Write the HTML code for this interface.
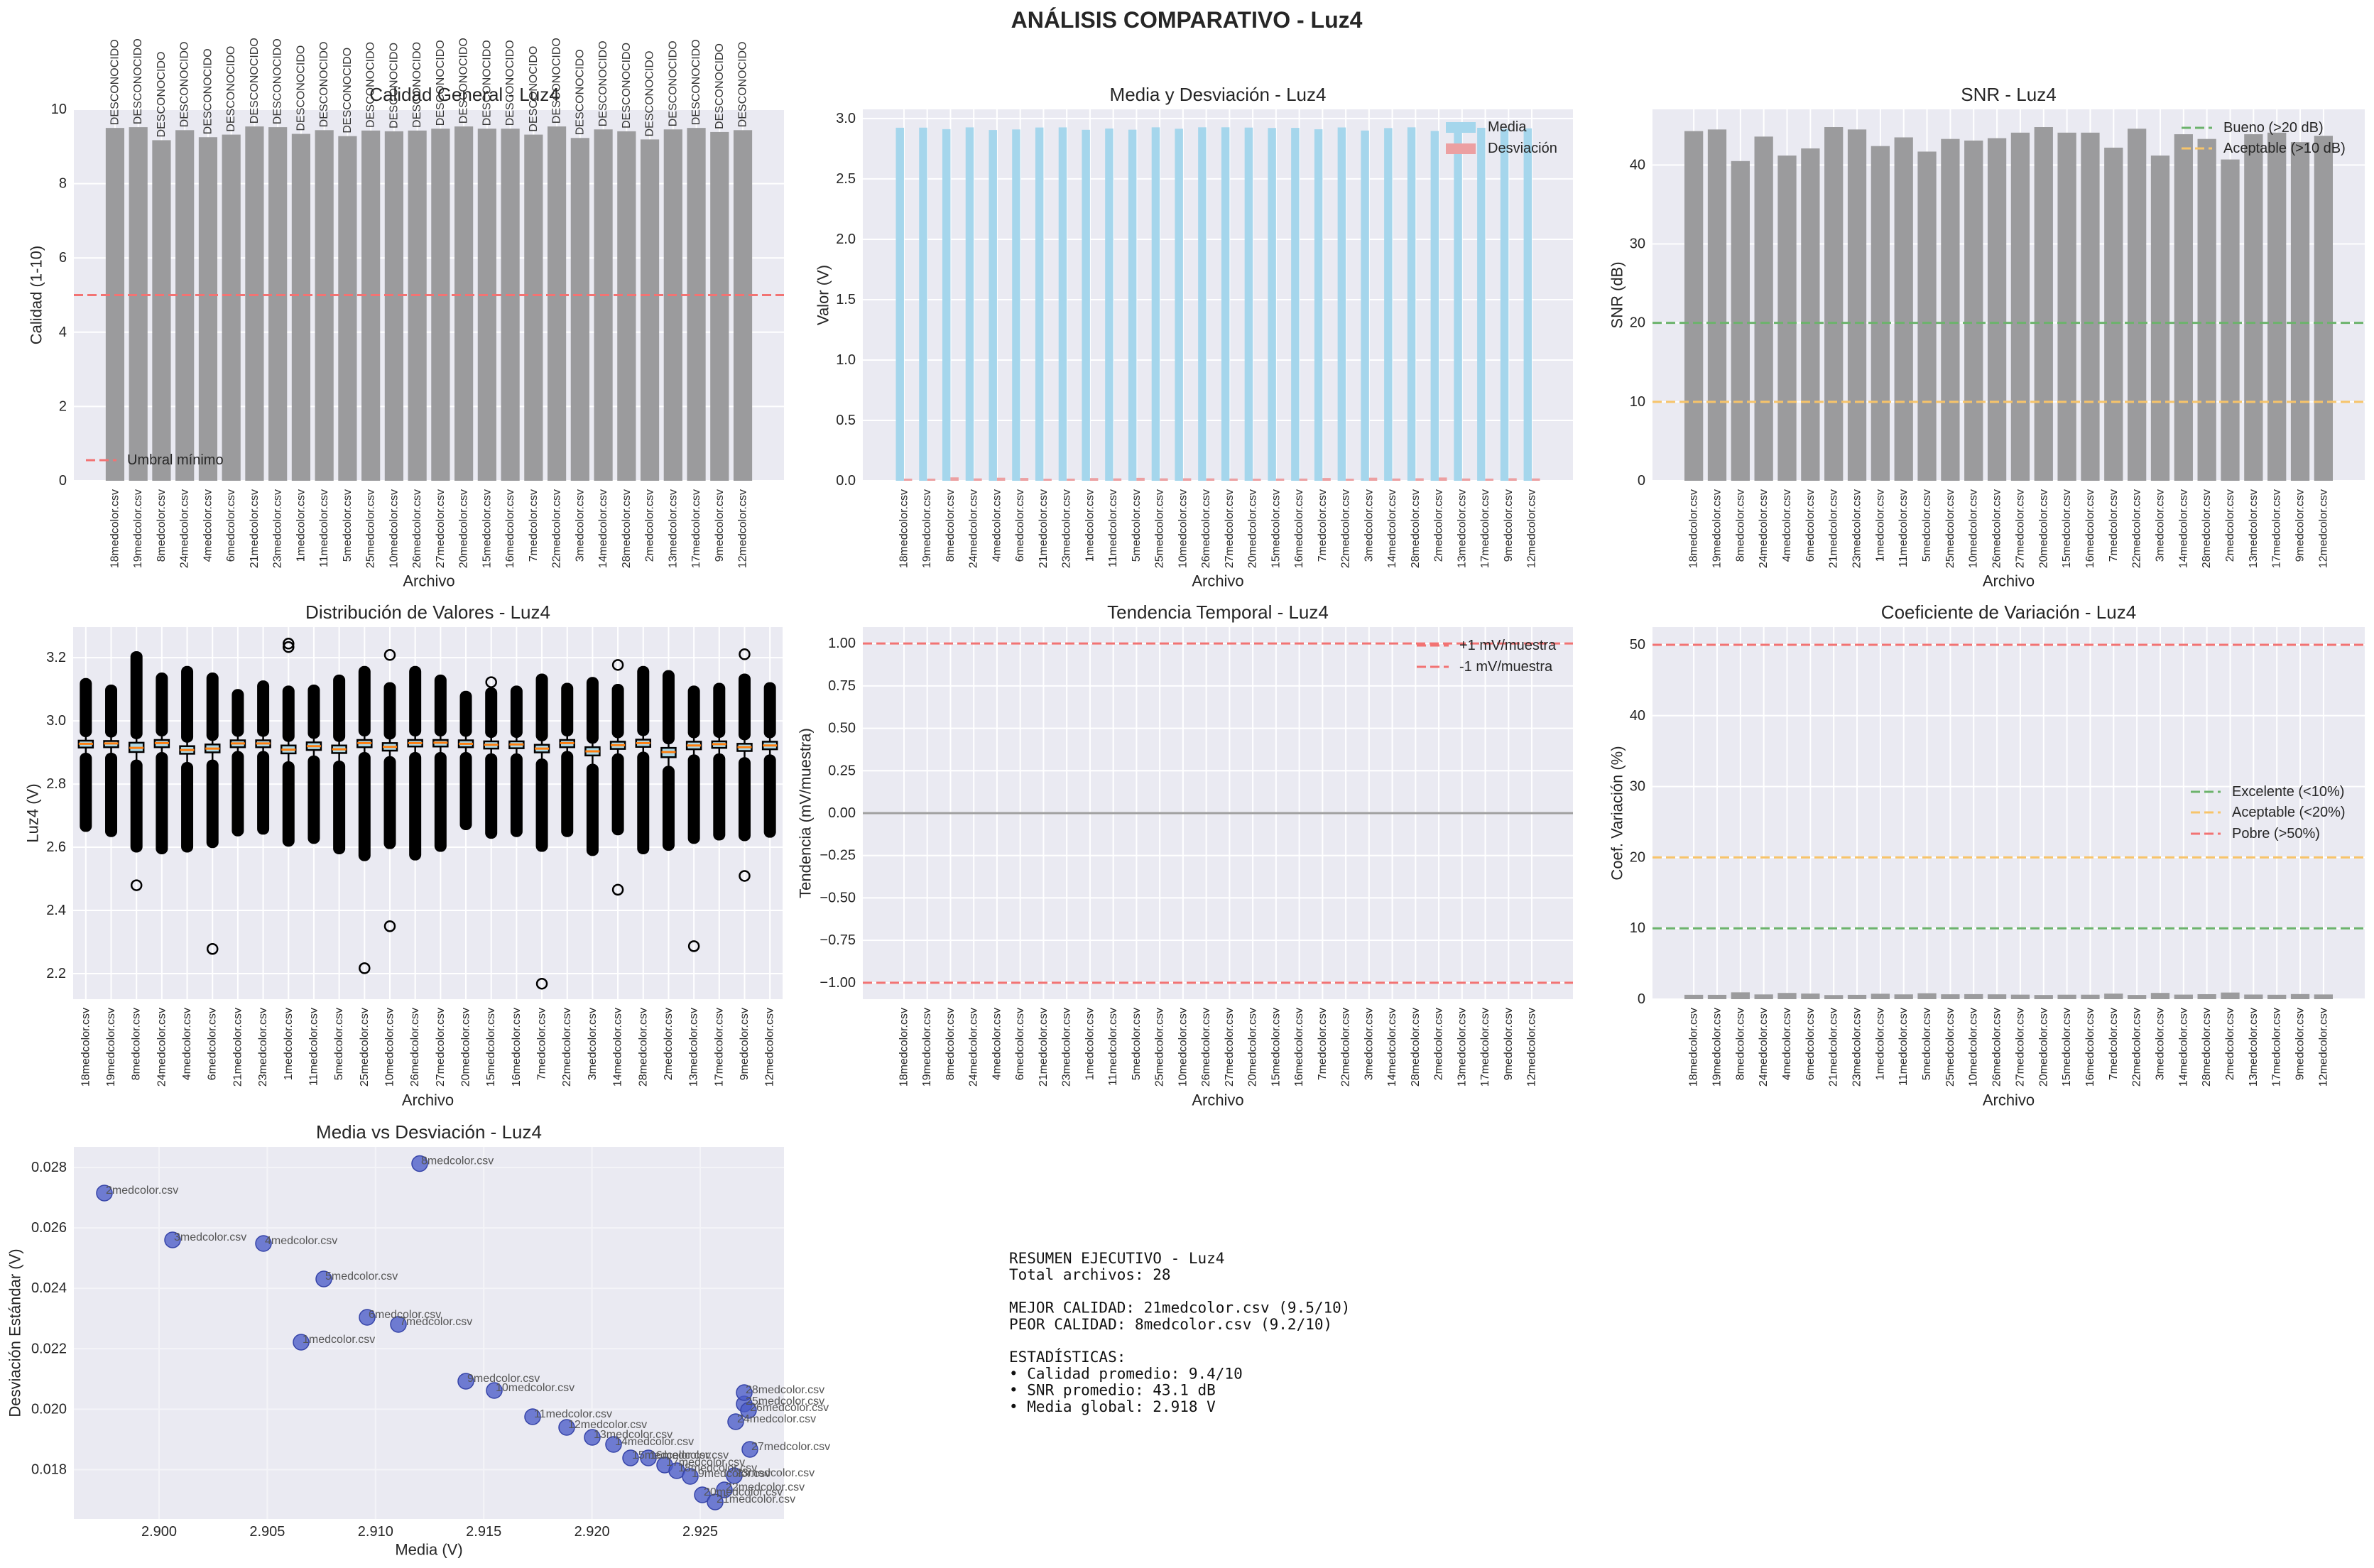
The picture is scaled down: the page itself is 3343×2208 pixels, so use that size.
<!DOCTYPE html>
<html><head><meta charset="utf-8"><style>
html,body{margin:0;padding:0;background:#fff;}
svg{display:block;font-family:"Liberation Sans",sans-serif;}
</style></head><body>
<svg id="s" xmlns="http://www.w3.org/2000/svg" width="3343" height="2208" viewBox="0 0 3343 2208"></svg>
<script>
const S=document.getElementById('s');
let out='';
const TC='#262626';
function t(x,y,s,o){o=o||{};out+=`<text x="${x}" y="${y}" font-size="${o.fs||20}" fill="${o.c||TC}" text-anchor="${o.a||'start'}" ${o.rot!==undefined?`transform="rotate(${o.rot} ${x} ${y})"`:''} dominant-baseline="${o.db||'auto'}" ${o.ff?`font-family='${o.ff}'`:''} ${o.fw?`font-weight="${o.fw}"`:''} ${o.op?`opacity="${o.op}"`:''}>${s}</text>`;}
function r(x,y,w,h,f,o){out+=`<rect x="${x}" y="${y}" width="${w}" height="${h}" fill="${f}" ${o||''}/>`;}
function l(x1,y1,x2,y2,c,w,d){out+=`<line x1="${x1}" y1="${y1}" x2="${x2}" y2="${y2}" stroke="${c}" stroke-width="${w}" ${d?`stroke-dasharray="${d}"`:''}/>`;}
const files=[18,19,8,24,4,6,21,23,1,11,5,25,10,26,27,20,15,16,7,22,3,14,28,2,13,17,9,12];
const sc={8:[591,1638.5],2:[147,1680],3:[243,1746],4:[371,1751],5:[456,1801],6:[517,1855],7:[561,1865],1:[424,1890],9:[656,1945],10:[696,1958],11:[750,1995],12:[798,2010],13:[834,2024],14:[864,2034],15:[888,2053],16:[913,2053],17:[936,2063],18:[953,2071],19:[972,2079],20:[989,2105],21:[1007,2115],22:[1020,2098],23:[1034,2078],24:[1036,2002],25:[1048,1977],26:[1054,1986],27:[1056,2041],28:[1048,1961]};
const mean=f=>2.9+(sc[f][0]-224)/30480, sd=f=>0.018+(2069.5-sc[f][1])/42550;
function ax(x0,x1,y0,y1,xmin,xmax,ymin,ymax){return{x0,x1,y0,y1,X:v=>x0+(v-xmin)/(xmax-xmin)*(x1-x0),Y:v=>y1-(v-ymin)/(ymax-ymin)*(y1-y0)};}
function frame(a,yt,fmt,title,ylab,xt,grid){
  r(a.x0,a.y0,a.x1-a.x0,a.y1-a.y0,'#eaeaf2');
  const gc=grid||'#fff';
  yt.forEach(v=>{const y=a.Y(v);l(a.x0,y,a.x1,y,gc,2);t(a.x0-10,y,fmt(v),{a:'end',db:'central',fs:20});});
  if(xt)xt.forEach(p=>l(a.X(p),a.y0,a.X(p),a.y1,gc,2));
  t((a.x0+a.x1)/2,a.y0-12,title,{a:'middle',fs:26});
}
function ylabel(x,a,s){t(x,(a.y0+a.y1)/2,s,{a:'middle',db:'central',rot:-90,fs:22});}
function xlabels(a,pos,base){files.forEach((f,i)=>t(a.X(pos[i]),a.y1+12,f+'medcolor.csv',{a:'end',db:'central',rot:-90,fs:16}));t((a.x0+a.x1)/2,base,'Archivo',{a:'middle',fs:22,db:'central'});}
const idx=files.map((f,i)=>i);
const XMIN=-1.77,XMAX=28.77;
const qual=[9.50,9.52,9.17,9.44,9.25,9.32,9.54,9.52,9.34,9.44,9.28,9.43,9.41,9.43,9.48,9.54,9.48,9.48,9.32,9.54,9.23,9.46,9.41,9.19,9.46,9.50,9.39,9.44];
const snr=[44.3,44.5,40.5,43.6,41.2,42.1,44.8,44.5,42.4,43.5,41.7,43.3,43.1,43.4,44.1,44.8,44.1,44.1,42.2,44.6,41.2,43.9,43.3,40.7,43.9,44.1,42.9,43.7];
const GRAY='#9b9b9d';
t(1671,39,'ANÁLISIS COMPARATIVO - Luz4',{a:'middle',fs:32,fw:'bold'});
// Plot 1
let a=ax(104,1104,154,677,XMIN,XMAX,0,10);
frame(a,[0,2,4,6,8,10],v=>v,'',null,idx);
idx.forEach(i=>{r(a.X(i-0.4),a.Y(qual[i]),a.X(0.8)-a.X(0),a.Y(0)-a.Y(qual[i]),GRAY);});
l(a.x0,a.Y(5),a.x1,a.Y(5),'#f27373',3,'13 6');
idx.forEach(i=>t(a.X(i),a.Y(qual[i])-4,'DESCONOCIDO',{a:'start',db:'central',rot:-90,fs:16,c:'#333'}));
t(654,133,'Calidad General - Luz4',{a:'middle',fs:26,db:'central'});
l(121,648,164,648,'#f27373',3,'13 6');t(179,648,'Umbral mínimo',{db:'central',fs:20});
ylabel(51,a,'Calidad (1-10)');xlabels(a,idx,818);
// Plot 2
a=ax(1215,2215,154,677,XMIN,XMAX,0,3.076);
frame(a,[0,0.5,1,1.5,2,2.5,3],v=>v.toFixed(1),'Media y Desviación - Luz4',null,idx);
const bw=a.X(0.35)-a.X(0);
idx.forEach(i=>{const f=files[i];r(a.X(i-0.35),a.Y(mean(f)),bw,a.Y(0)-a.Y(mean(f)),'#a5d6ec');r(a.X(i),a.Y(sd(f)),bw,a.Y(0)-a.Y(sd(f)),'#eca0a2');});
r(2036,172,42,15,'#a5d6ec');t(2095,179,'Media',{db:'central',fs:20});
r(2036,202,42,15,'#eca0a2');t(2095,209,'Desviación',{db:'central',fs:20});
ylabel(1159,a,'Valor (V)');xlabels(a,idx,818);
// Plot 3
a=ax(2327,3330,154,677,XMIN,XMAX,0,47.05);
frame(a,[0,10,20,30,40],v=>v,'SNR - Luz4',null,idx);
idx.forEach(i=>r(a.X(i-0.4),a.Y(snr[i]),a.X(0.8)-a.X(0),a.Y(0)-a.Y(snr[i]),GRAY));
l(a.x0,a.Y(20),a.x1,a.Y(20),'#6cb36c',3,'13 6');l(a.x0,a.Y(10),a.x1,a.Y(10),'#f7c46a',3,'13 6');
l(3072,180,3115,180,'#6cb36c',3,'13 6');t(3131,180,'Bueno (&gt;20 dB)',{db:'central',fs:20});
l(3072,209,3115,209,'#f7c46a',3,'13 6');t(3131,209,'Aceptable (&gt;10 dB)',{db:'central',fs:20});
ylabel(2277,a,'SNR (dB)');xlabels(a,idx,818);
// Plot 4 boxplot
a=ax(103,1102,883,1407,0.5,28.5,2.119,3.297);
frame(a,[2.2,2.4,2.6,2.8,3.0,3.2],v=>v.toFixed(1),'Distribución de Valores - Luz4',null,files.map((f,i)=>i+1));
const bx=[[278,460,480,469,495,725,[]],[297,461,479,468,495,740,[]],[200,466,493,481,515,785,[880]],[262,458,479,467,493,790,[]],[243,476,498,487,522,785,[]],[262,471,494,483,515,772,[1065]],[310,459,479,468,490,738,[]],[285,459,479,468,490,733,[]],[300,474,497,486,520,768,[178,188]],[297,465,487,476,503,760,[]],[268,474,496,485,518,790,[]],[243,458,479,467,493,810,[1121]],[290,467,489,478,505,775,[211,999]],[243,458,477,467,493,808,[]],[268,458,477,466,493,783,[]],[315,459,479,469,493,720,[]],[305,462,483,472,497,745,[290]],[300,462,482,471,497,740,[]],[265,472,494,483,512,783,[1166]],[292,458,479,467,490,740,[]],[275,479,503,491,527,795,[]],[295,463,484,473,497,735,[240,893]],[243,457,478,467,492,790,[]],[255,481,508,493,533,780,[]],[300,463,485,474,500,760,[1057]],[292,462,481,470,497,750,[]],[265,469,490,479,508,752,[209,853]],[290,463,485,474,500,742,[]]];
const zy=z=>820+z/2.063;
bx.forEach((b,i)=>{const x=a.X(i+1);const [mx,bt,bb,md,lt,mn,iso]=b;
 const ut=zy(mx),ub=zy(bt)-5,lb=zy(lt),lm=zy(mn);
 r(x-8.5,ut,17,ub-ut,'#000','rx="8"');r(x-8.5,lb,17,lm-lb,'#000','rx="8"');
 l(x,zy(bt)-6,x,zy(bt),'#000',2.5);l(x,zy(bb),x,lb+4,'#000',2.5);
 r(x-10,zy(bt),20,zy(bb)-zy(bt),'#add8e6','stroke="#000" stroke-width="2.5"');
 l(x-10,zy(md),x+10,zy(md),'#ff7f0e',3);
 iso.forEach(z=>out+=`<circle cx="${x}" cy="${zy(z)}" r="7" fill="none" stroke="#000" stroke-width="2.5"/>`);
});
ylabel(46,a,'Luz4 (V)');xlabels(a,files.map((f,i)=>i+1),1549);
// Plot 5
a=ax(1215,2215,883,1407,XMIN,XMAX,-1.097,1.097);
frame(a,[-1,-0.75,-0.5,-0.25,0,0.25,0.5,0.75,1],v=>(v<0?'−':'')+Math.abs(v).toFixed(2),'Tendencia Temporal - Luz4',null,idx);
l(a.x0,a.Y(0),a.x1,a.Y(0),'#a0a0a0',3);
l(a.x0,a.Y(1),a.x1,a.Y(1),'#f27373',3,'13 6');l(a.x0,a.Y(-1),a.x1,a.Y(-1),'#f27373',3,'13 6');
l(1995,909,2040,909,'#f27373',3,'13 6');t(2055,909,'+1 mV/muestra',{db:'central',fs:20});
l(1995,939,2040,939,'#f27373',3,'13 6');t(2055,939,'-1 mV/muestra',{db:'central',fs:20});
ylabel(1134,a,'Tendencia (mV/muestra)');xlabels(a,idx,1549);
// Plot 6
a=ax(2327,3330,883,1407,XMIN,XMAX,0,52.5);
frame(a,[0,10,20,30,40,50],v=>v,'Coeficiente de Variación - Luz4',null,idx);
idx.forEach(i=>{const f=files[i];const cv=sd(f)/mean(f)*100;r(a.X(i-0.4),a.Y(cv),a.X(0.8)-a.X(0),a.Y(0)-a.Y(cv),GRAY);});
l(a.x0,a.Y(10),a.x1,a.Y(10),'#6cb36c',3,'13 6');l(a.x0,a.Y(20),a.x1,a.Y(20),'#f7c46a',3,'13 6');l(a.x0,a.Y(50),a.x1,a.Y(50),'#f27373',3,'13 6');
[['#6cb36c','Excelente (&lt;10%)',1115],['#f7c46a','Aceptable (&lt;20%)',1144],['#f27373','Pobre (&gt;50%)',1174]].forEach(e=>{l(3085,e[2],3127,e[2],e[0],3,'13 6');t(3143,e[2],e[1],{db:'central',fs:20});});
ylabel(2277,a,'Coef. Variación (%)');xlabels(a,idx,1549);
// Plot 7 scatter
a={x0:104,x1:1104,y0:1615,y1:2139,X:v=>224+(v-2.9)*30480,Y:v=>1644+(0.028-v)*42550};
r(a.x0,a.y0,1000,524,'#eaeaf2');
[0.018,0.020,0.022,0.024,0.026,0.028].forEach(v=>{const y=a.Y(v);l(a.x0,y,a.x1,y,'#f4f4f8',2);t(a.x0-10,y,v.toFixed(3),{a:'end',db:'central',fs:20});});
[2.9,2.905,2.91,2.915,2.92,2.925].forEach(v=>{const x=a.X(v);l(x,a.y0,x,a.y1,'#f4f4f8',2);t(x,2157,v.toFixed(3),{a:'middle',db:'central',fs:20});});
t(604,1594,'Media vs Desviación - Luz4',{a:'middle',fs:26,db:'central'});
for(let f=1;f<=28;f++){const [x,y]=sc[f];out+=`<circle cx="${x}" cy="${y}" r="11" fill="#4a5bc8" fill-opacity="0.78" stroke="#3644a8" stroke-width="1.5"/>`;}
for(let f=1;f<=28;f++){const [x,y]=sc[f];t(x+2,y+1,f+'medcolor.csv',{fs:16,c:'#555'});}
t(604,2182,'Media (V)',{a:'middle',fs:22,db:'central'});
ylabel(21,a,'Desviación Estándar (V)');
// Summary text
const lines=['RESUMEN EJECUTIVO - Luz4','Total archivos: 28','','MEJOR CALIDAD: 21medcolor.csv (9.5/10)','PEOR CALIDAD: 8medcolor.csv (9.2/10)','','ESTADÍSTICAS:','• Calidad promedio: 9.4/10','• SNR promedio: 43.1 dB','• Media global: 2.918 V'];
lines.forEach((s,i)=>{if(s)t(1421,1772+i*23.2,s,{fs:21,db:'central',ff:'DejaVu Sans Mono, Liberation Mono, monospace',c:'#111'});});
S.innerHTML='<rect width="3343" height="2208" fill="#fff"/>'+out;
</script>
</body></html>
